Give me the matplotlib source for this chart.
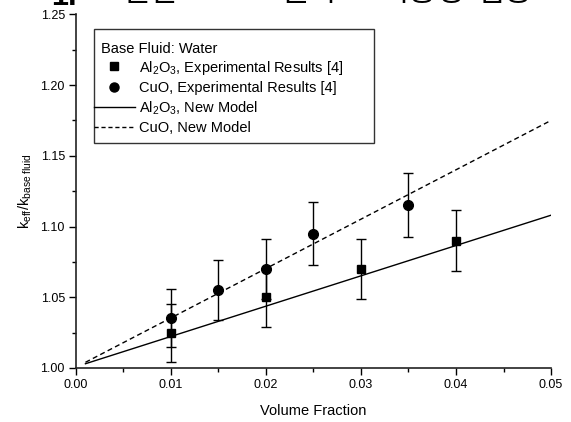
import numpy as np
import matplotlib
matplotlib.use("Agg")
import matplotlib.pyplot as plt
from matplotlib.lines import Line2D
from matplotlib.patches import Rectangle
from matplotlib.ticker import MultipleLocator, FormatStrFormatter

plt.rcParams['font.family'] = ['Liberation Sans', 'Noto Sans CJK KR', 'DejaVu Sans']
plt.rcParams['mathtext.fontset'] = 'custom'
plt.rcParams['mathtext.rm'] = 'Liberation Sans'
plt.rcParams['mathtext.it'] = 'Liberation Sans'

# experimental data
al_x = [0.01, 0.02, 0.03, 0.04]
al_y = [1.025, 1.050, 1.070, 1.090]
al_err = [0.0205, 0.021, 0.0215, 0.0215]

cu_x = [0.01, 0.015, 0.02, 0.025, 0.035]
cu_y = [1.035, 1.055, 1.070, 1.095, 1.115]
cu_err = [0.0205, 0.021, 0.0215, 0.022, 0.0225]

# model lines
model_x = [0.001, 0.05]
al_model = [1.003, 1.108]
cu_model = [1.004, 1.175]

# heading words (cut off at the top in the source)
heading_words = ['열전도도', '모델의', '적용성', '검증']
heading_x = [121, 253, 380, 476]

fig = plt.figure(figsize=(5.71, 4.22), dpi=100)
ax = fig.add_axes([0.133, 0.128, 0.832, 0.838])

ax.plot(model_x, al_model, color='black', lw=1)
ax.plot(model_x, cu_model, color='black', lw=1, dashes=(3.6, 2.4))
ax.errorbar(al_x, al_y, yerr=al_err, fmt='s', color='black', ms=6.3,
            elinewidth=1, capsize=3.3, capthick=1)
ax.errorbar(cu_x, cu_y, yerr=cu_err, fmt='o', color='black', ms=7,
            elinewidth=1, capsize=3.3, capthick=1)

ax.set_xlim(0, 0.05)
ax.set_ylim(1.0, 1.25)
ax.xaxis.set_major_locator(MultipleLocator(0.01))
ax.xaxis.set_minor_locator(MultipleLocator(0.005))
ax.yaxis.set_major_locator(MultipleLocator(0.05))
ax.yaxis.set_minor_locator(MultipleLocator(0.025))
ax.xaxis.set_major_formatter(FormatStrFormatter('%.2f'))
ax.yaxis.set_major_formatter(FormatStrFormatter('%.2f'))
ax.tick_params(which='major', direction='out', length=5, width=1, labelsize=9, pad=3)
ax.tick_params(which='minor', direction='out', length=3, width=1)
for s in ['top', 'right']:
    ax.spines[s].set_visible(False)
for s in ['left', 'bottom']:
    ax.spines[s].set_linewidth(1.2)
    ax.spines[s].set_color('#222222')

ax.set_xlabel('Volume Fraction', fontsize=10.5, labelpad=9)
ax.set_ylabel(r'k$_{\mathrm{eff}}$/k$_{\mathrm{base\ fluid}}$', fontsize=10.5, labelpad=5)

# legend frame and title
ax.add_patch(Rectangle((0.038, 0.6365), 0.589, 0.3225, transform=ax.transAxes,
                       fill=False, edgecolor='#333333', lw=1, zorder=5))
ax.text(0.0526, 0.902, 'Base Fluid: Water', transform=ax.transAxes,
        fontsize=10.5, va='center', ha='left')

handles = [
    Line2D([], [], ls='none', marker='s', color='black', ms=6),
    Line2D([], [], ls='none', marker='o', color='black', ms=6.5),
    Line2D([], [], color='black', lw=1),
    Line2D([], [], color='black', lw=1, dashes=(3, 2)),
]
labels = [
    r'Al$_2$O$_3$, Experimental Results [4]',
    'CuO, Experimental Results [4]',
    r'Al$_2$O$_3$, New Model',
    'CuO, New Model',
]
leg = ax.legend(handles, labels, loc='upper left',
                bbox_to_anchor=(0.038, 0.875), fontsize=10.5,
                frameon=False, handlelength=2.8,
                handletextpad=0.27, borderpad=0, labelspacing=0.3,
                borderaxespad=0)

# heading cut off at the top of the picture
fig.text(51 / 571, 1 - 5 / 422, '1.', fontsize=22, va='baseline', ha='left',
         fontweight='bold')
for word, xp in zip(heading_words, heading_x):
    fig.text(xp / 571, 1 - 1 / 422, word, fontsize=22, va='baseline',
             ha='left', family=['Noto Sans CJK KR'])

fig.savefig('out.png', dpi=100)
